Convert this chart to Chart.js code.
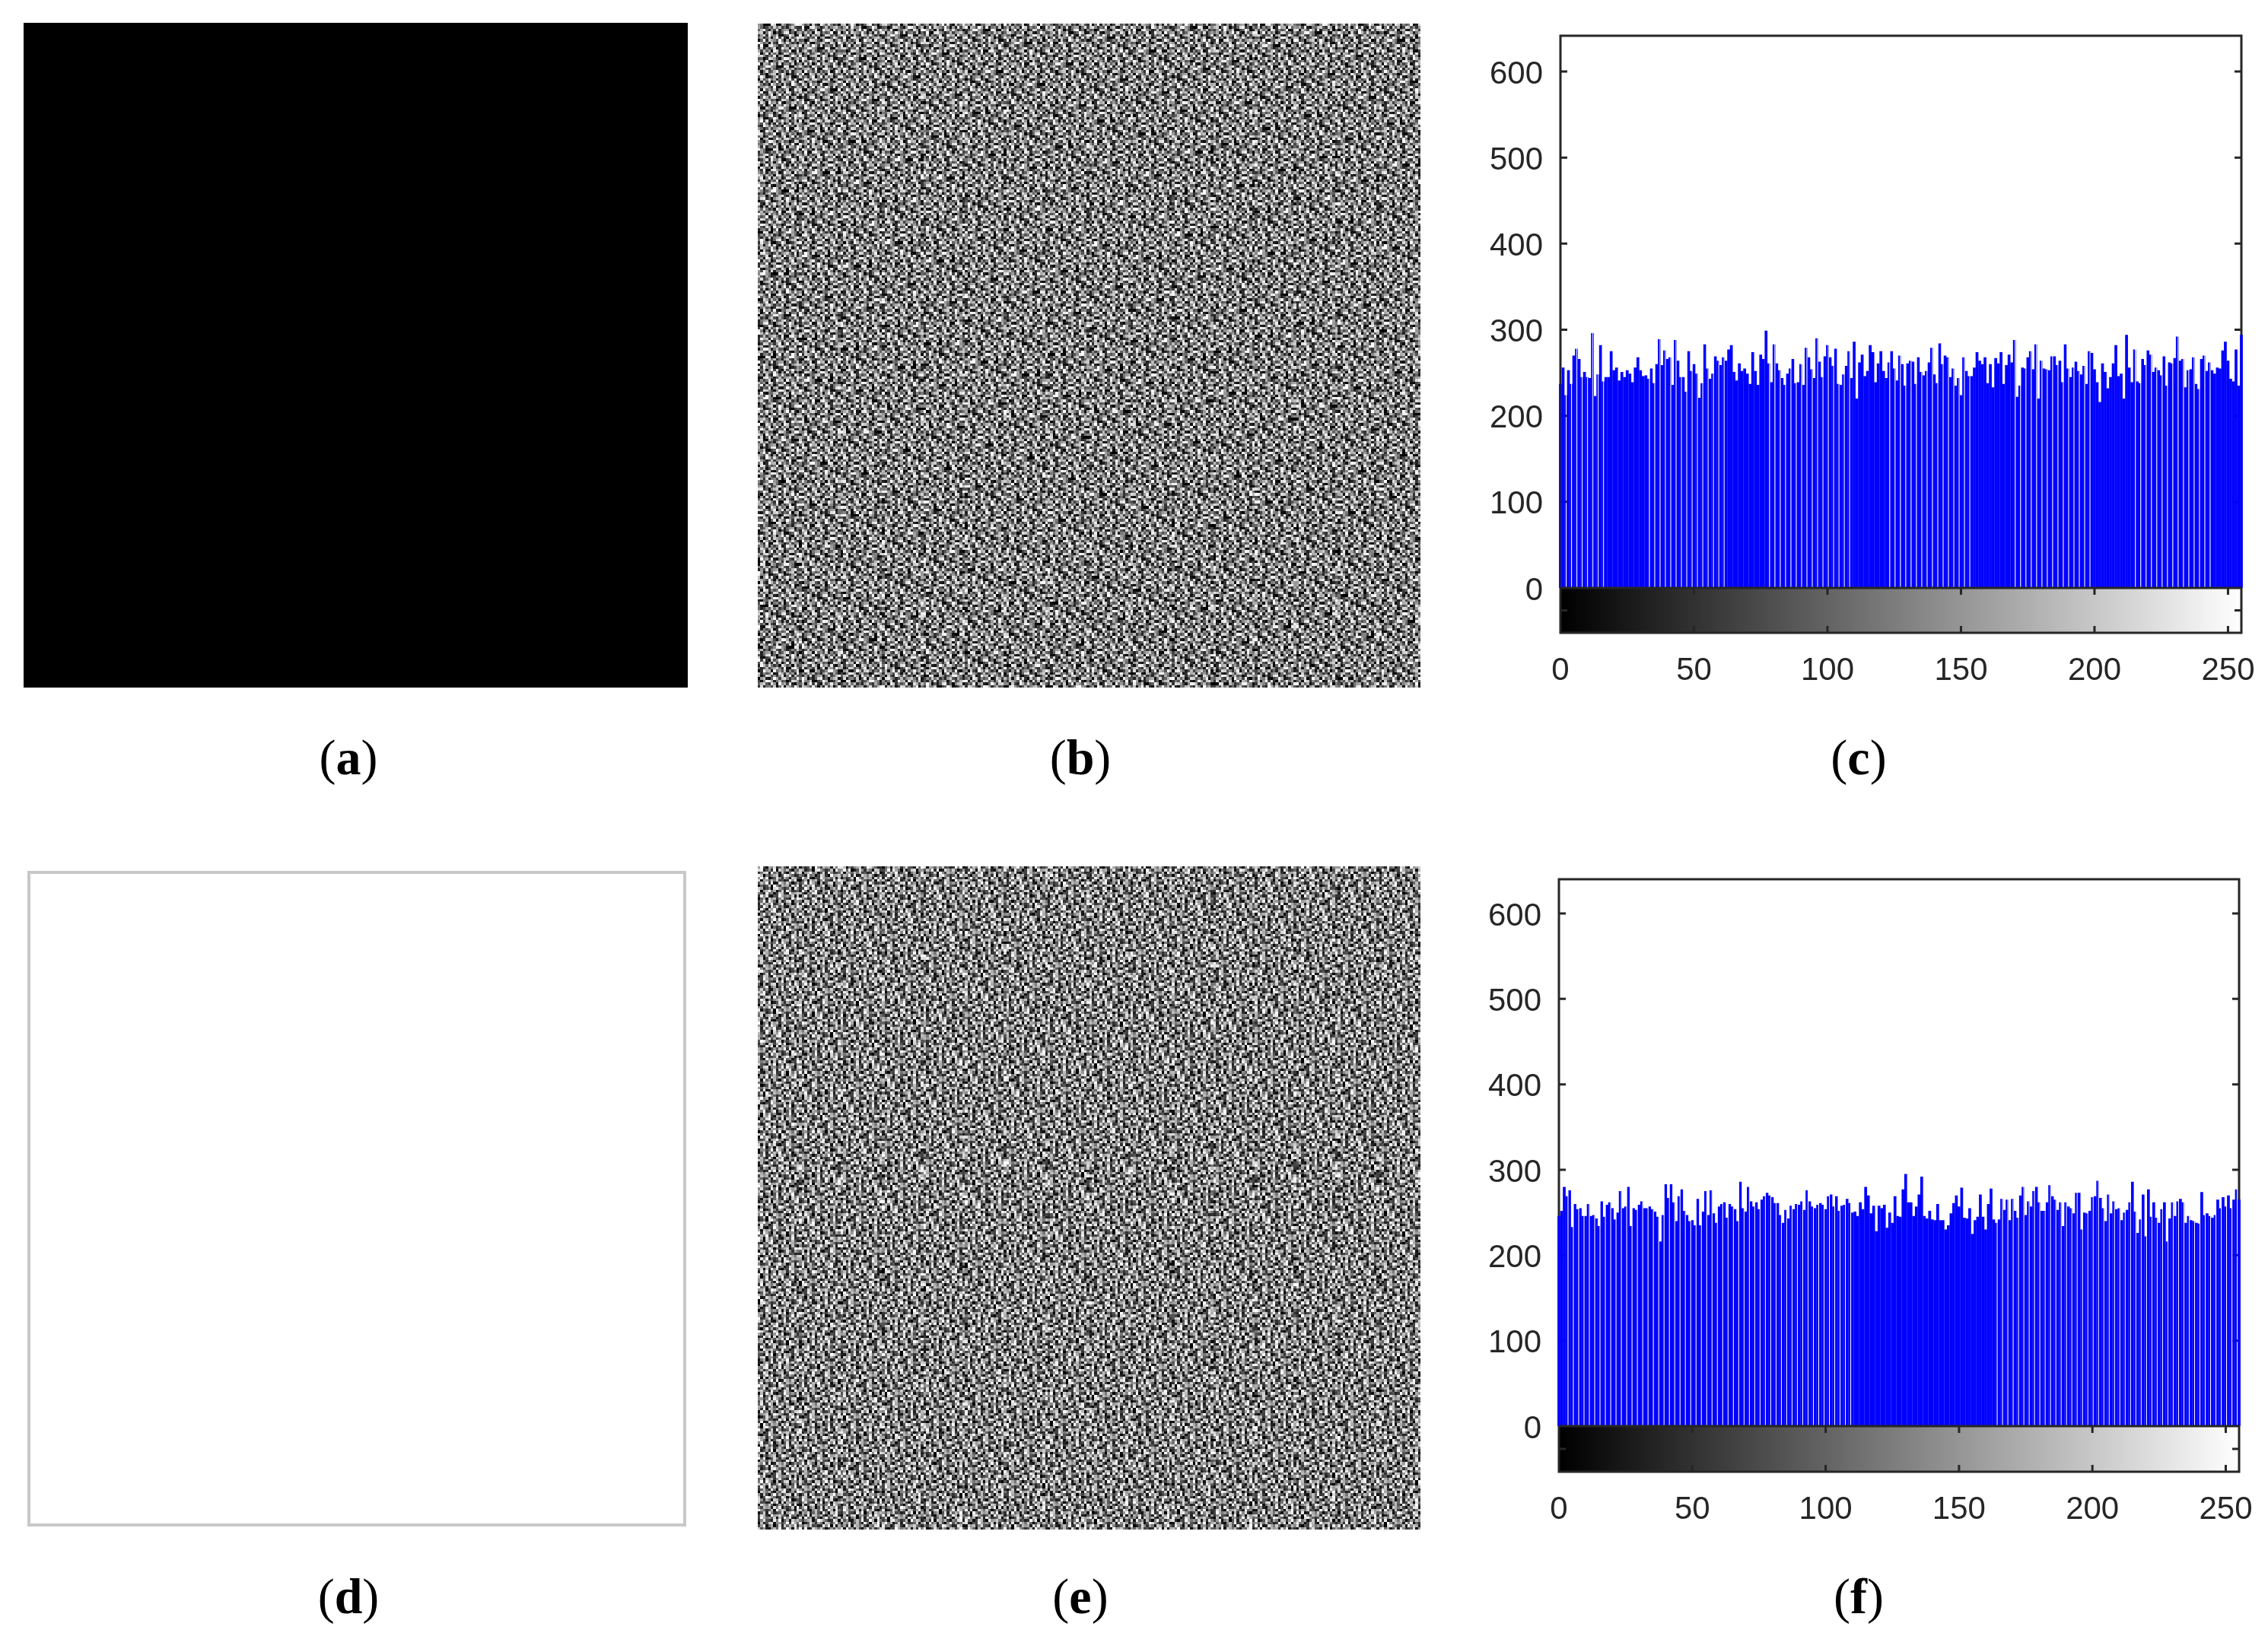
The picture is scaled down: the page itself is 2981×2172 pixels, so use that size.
<!DOCTYPE html>
<html>
<head>
<meta charset="utf-8">
<script src="https://cdn.jsdelivr.net/npm/chart.js@4/dist/chart.umd.min.js"></script>
<style>
  html, body { margin: 0; padding: 0; background: #fff; }
  #page { position: relative; width: 2981px; height: 2172px; overflow: hidden; }
  canvas { position: absolute; display: block; }
  .caption { position: absolute; transform: translate(-50%, -50%); font-family: "Liberation Serif", serif; font-size: 66px; color: #000; white-space: nowrap; }
</style>
</head>
<body>
<div id="page"></div>
<script>
// histogram counts (c) and (f), grey level 0..255
const histC = [
  237,256,224,253,237,270,278,266,245,251,245,244,296,223,248,282,240,245,245,275,253,256,241,251,245,253,249,239,256,268,253,246,
  247,243,255,238,260,289,259,276,266,268,236,288,264,245,245,228,275,252,260,249,221,238,283,255,243,249,269,264,259,268,264,277,
  282,251,241,261,252,255,249,237,274,252,236,271,266,299,261,239,283,261,253,244,236,249,255,266,238,239,260,236,279,268,254,244,
  290,263,245,269,282,268,258,278,237,236,248,258,275,244,286,220,262,271,246,252,282,274,239,261,275,252,244,262,275,255,241,270,
  260,235,261,264,263,237,268,251,247,252,262,279,248,238,284,260,270,268,245,255,235,244,224,268,252,246,246,256,274,264,260,268,
  238,260,233,267,261,274,237,259,271,262,288,222,235,256,255,268,275,254,283,220,264,255,254,253,269,269,259,264,239,283,255,245,
  256,263,252,248,258,237,275,273,254,239,216,261,251,232,245,261,282,246,249,220,294,256,239,277,240,238,266,259,276,271,251,256,
  253,247,269,235,262,261,267,292,264,266,233,253,254,268,237,231,266,270,252,262,253,249,256,255,276,286,264,243,240,277,235,294
];
const histF = [
  246,252,280,269,276,233,260,254,255,246,246,260,246,247,243,234,263,245,259,262,255,242,250,275,255,257,280,234,255,253,259,263,
  255,255,257,254,251,245,216,247,283,267,283,262,240,269,277,252,247,240,241,235,266,235,251,275,247,276,249,238,257,260,262,244,
  260,257,254,240,286,255,251,280,263,257,262,254,265,269,273,270,268,261,261,247,238,253,243,258,254,260,259,263,253,276,263,257,
  255,259,261,259,254,269,271,257,269,252,258,259,266,261,250,251,246,262,254,280,270,249,258,228,258,255,259,232,250,238,269,246,
  245,277,295,262,262,246,257,271,292,246,243,252,242,241,260,241,241,230,235,249,261,270,257,279,244,243,255,225,241,245,271,245,
  230,260,278,242,238,242,266,253,265,241,266,252,244,270,280,247,263,257,275,280,262,252,252,262,282,269,265,253,262,234,262,257,
  255,249,273,273,230,250,249,252,268,269,287,267,255,240,271,249,263,254,255,241,250,253,262,286,251,226,242,271,222,277,245,262,
  244,238,254,262,216,243,262,246,263,266,262,238,246,241,240,238,237,274,247,249,246,244,247,265,255,268,257,270,255,265,277,265
];
const xTickValues = [0, 50, 100, 150, 200, 250];
const yTickValues = [0, 100, 200, 300, 400, 500, 600];
const levels = histC.map((v, i) => i);

// white hairlines between bars, where the downsampled stems leave a gap: [first, last], every 2 levels
const gapRunsC = [[0.15,16.15],[33.3,61.3],[78.3,108.3],[123.3,153.3],[170.3,198.3],[215.3,243.3]];
const gapRunsF = [[3.4,109.4],[164.3,254.3]];

// NOT measured data: hand-typed grey digits that only imitate the noise texture of panels (b) and (e).
// The real images have 65536 cells, these do not reproduce them.
const patchB = [
  '358ef97100ed10b8','29c53a62485c7b36','a17d46be5294d279','e3608bc17fa0526d',
  '6fb1249d3e87c104','0c58e7a26b19f4d3','92d4b06f3ca85e71','d7361ea580c42fb6',
  '48ac73f10de9625b','b1e695c2847d03fa','7f02da4b691ec385','c5839e07f2b6a14d',
  '16fa4cd8375e09b2','ea27b5603dc9418f','3d91f8a4e2076bc5','84c06e1b95fa3d27'
];
const patchE = [
  '2e70c9f41a8d36b5','b4186de2593f0ca7','08f5a37cd1e692b4','d9623eb0748ac15f',
  '71cb49f6e025d83a','3f8e0d1a96b7c452','c60495b8f3e12da7','a2d7e1635c0f84b9',
  '5b1f8ca2470de963','e8346d09bf7a15c2','0f9ac752e6814db3','96c1b3e8d2054fa7',
  '42e7f06a1c9b38d5','cd18947f3ea60b25','7a05d2c6b8f349e1','18b6e34fa0d7c592'
];
// fixed block offsets so the patch doesn't show as a regular lattice
const shiftRows = [0, 7, 3, 12, 5, 14, 9, 1, 11, 6, 15, 2, 8, 13, 4, 10, 3];
const shiftCols = [5, 0, 11, 4, 14, 8, 2, 13, 7, 1, 10, 15, 3, 9, 6, 12, 8, 1, 14];
const plateA = ['0'];
const plateD = ['f'];

const axisColor = '#262626';
const axisWidth = 3;
const tickLen = 9;

// plain images: one cell per image pixel
const imagePlugin = {
  id: 'imagePlate',
  beforeDatasetsDraw(chart, args, opts) {
    const {ctx, scales: {x, y}} = chart;
    const rows = opts.cells, n = rows.length;
    ctx.save();
    for (let r = 0; r < opts.size; r++) {
      const y0 = Math.round(y.getPixelForValue(r)), y1 = Math.round(y.getPixelForValue(r + 1));
      for (let c = 0; c < opts.size; c++) {
        const x0 = Math.round(x.getPixelForValue(c)), x1 = Math.round(x.getPixelForValue(c + 1));
        const rr = r + shiftRows[Math.floor(c / n) % shiftRows.length];
        const row = rows[rr % n];
        const cc = c + shiftCols[Math.floor(rr / n) % shiftCols.length];
        const g = parseInt(row[cc % row.length], 16) * 17;
        ctx.fillStyle = 'rgb(' + g + ',' + g + ',' + g + ')';
        ctx.fillRect(x0, y0, x1 - x0, y1 - y0);
      }
    }
    if (opts.frame) {
      const a = chart.chartArea;
      ctx.strokeStyle = opts.frame;
      ctx.lineWidth = 4;
      ctx.strokeRect(a.left + 2, a.top + 2, a.right - a.left - 4, a.bottom - a.top - 4);
    }
    ctx.restore();
  }
};

// axes box, inward ticks and the grey bar under a histogram (bars sit on top of the axes, like the original)
const histAxesPlugin = {
  id: 'histAxes',
  afterDatasetsDraw(chart, args, opts) {
    const {ctx, chartArea: a, scales: {x, y}} = chart;
    const y0 = y.getPixelForValue(0);
    ctx.save();

    // punch the gaps out of the bars
    ctx.globalCompositeOperation = 'destination-out';
    ctx.fillStyle = '#000';
    opts.gaps.forEach(run => {
      for (let g = run[0]; g <= run[1]; g += 2) {
        ctx.fillRect(x.getPixelForValue(g) - 0.5, a.top, 1, y0 - a.top);
      }
    });

    // main box and ticks go behind the bars
    ctx.globalCompositeOperation = 'destination-over';
    ctx.strokeStyle = axisColor;
    ctx.lineWidth = axisWidth;
    ctx.beginPath();
    ctx.moveTo(a.left, y0); ctx.lineTo(a.left, a.top); ctx.lineTo(a.right, a.top); ctx.lineTo(a.right, y0);
    yTickValues.forEach(v => {
      const p = y.getPixelForValue(v);
      ctx.moveTo(a.left, p); ctx.lineTo(a.left + tickLen, p);
      ctx.moveTo(a.right, p); ctx.lineTo(a.right - tickLen, p);
    });
    ctx.stroke();

    // grey bar below zero
    ctx.globalCompositeOperation = 'source-over';
    levels.forEach(l => {
      const x0 = Math.round(x.getPixelForValue(l));
      const x1 = l < 255 ? Math.round(x.getPixelForValue(l + 1)) : a.right;
      ctx.fillStyle = 'rgb(' + l + ',' + l + ',' + l + ')';
      ctx.fillRect(x0, y0, x1 - x0, a.bottom - y0);
    });
    ctx.lineWidth = axisWidth;
    ctx.beginPath();
    ctx.moveTo(a.left, y0); ctx.lineTo(a.right, y0);
    ctx.moveTo(a.left, y0); ctx.lineTo(a.left, a.bottom); ctx.lineTo(a.right, a.bottom); ctx.lineTo(a.right, y0);
    xTickValues.forEach(v => {
      const p = x.getPixelForValue(v);
      ctx.moveTo(p, y0); ctx.lineTo(p, y0 + tickLen);
      ctx.moveTo(p, a.bottom); ctx.lineTo(p, a.bottom - tickLen);
    });
    const mid = (y0 + a.bottom) / 2;
    ctx.moveTo(a.left, mid); ctx.lineTo(a.left + tickLen, mid);
    ctx.moveTo(a.right, mid); ctx.lineTo(a.right - tickLen, mid);
    ctx.stroke();
    ctx.restore();
  }
};

function addCanvas(left, top, width, height) {
  const c = document.createElement('canvas');
  c.width = width; c.height = height;
  c.style.left = left + 'px'; c.style.top = top + 'px';
  c.style.width = width + 'px'; c.style.height = height + 'px';
  document.getElementById('page').appendChild(c);
  return c;
}

function imagePanel(box, cells, size, frame) {
  new Chart(addCanvas(box.left, box.top, box.width, box.height), {
    type: 'scatter',
    data: { datasets: [{ data: [], pointRadius: 0 }] },
    plugins: [imagePlugin],
    options: {
      responsive: false,
      animation: false,
      devicePixelRatio: 1,
      events: [],
      scales: {
        x: { type: 'linear', display: false, min: 0, max: size },
        y: { type: 'linear', display: false, min: 0, max: size, reverse: true }
      },
      plugins: {
        legend: { display: false },
        tooltip: { enabled: false },
        imagePlate: { cells: cells, size: size, frame: frame }
      }
    }
  });
}

// chart.js keeps room for half of the outer tick labels, the original plot box doesn't
function noLabelPadding(s) {
  s.paddingLeft = 0; s.paddingRight = 0; s.paddingTop = 0; s.paddingBottom = 0;
}

function histPanel(box, counts, gaps, yMin, yMax) {
  const tickFont = { family: '"Liberation Sans", Arial, sans-serif', size: 42 };
  new Chart(addCanvas(box.left, box.top, box.width, box.height), {
    type: 'bar',
    data: {
      labels: levels,
      datasets: [{
        data: counts.map((v, i) => ({ x: levels[i], y: v })),
        backgroundColor: '#0000ff',
        borderWidth: 0,
        barPercentage: 1.06,
        categoryPercentage: 1,
        clip: { left: 3, right: 3, top: 0, bottom: 0 }
      }]
    },
    plugins: [histAxesPlugin],
    options: {
      responsive: false,
      animation: false,
      devicePixelRatio: 1,
      events: [],
      layout: { padding: { left: 0, top: box.plotTop, right: box.plotRight, bottom: 0 } },
      scales: {
        x: {
          type: 'linear',
          min: 0,
          max: 255,
          offset: false,
          grid: { display: false, drawTicks: false, offset: false },
          border: { display: false },
          afterBuildTicks: s => { s.ticks = xTickValues.map(v => ({ value: v })); },
          afterFit: s => { s.height = box.xAxisHeight; noLabelPadding(s); },
          ticks: { color: axisColor, font: tickFont, padding: 25, maxRotation: 0, autoSkip: false }
        },
        y: {
          min: yMin,
          max: yMax,
          grid: { display: false, drawTicks: false },
          border: { display: false },
          afterBuildTicks: s => { s.ticks = yTickValues.map(v => ({ value: v })); },
          afterFit: s => { s.width = box.yAxisWidth; noLabelPadding(s); },
          ticks: { color: axisColor, font: tickFont, padding: 23, labelOffset: 4 }
        }
      },
      plugins: {
        legend: { display: false },
        tooltip: { enabled: false },
        histAxes: { gaps: gaps }
      }
    }
  });
}

imagePanel({ left: 31, top: 30, width: 873, height: 874 }, plateA, 1, null);
imagePanel({ left: 996, top: 31, width: 871, height: 873 }, patchB, 256, null);
histPanel({ left: 1950, top: 20, width: 1031, height: 900, plotTop: 27, plotRight: 35, yAxisWidth: 101, xAxisHeight: 88 }, histC, gapRunsC, -52.1, 641.5);

imagePanel({ left: 36, top: 1145, width: 866, height: 862 }, plateD, 1, '#c8c8c8');
imagePanel({ left: 996, top: 1139, width: 871, height: 872 }, patchE, 256, null);
histPanel({ left: 1950, top: 1130, width: 1031, height: 900, plotTop: 26, plotRight: 38, yAxisWidth: 99, xAxisHeight: 95 }, histF, gapRunsF, -53.4, 640);

// sub-figure captions
const captionLetters = ['a', 'b', 'c', 'd', 'e', 'f'];
const captionX = [458, 1420, 2443, 458, 1420, 2443];
const captionY = [996, 996, 996, 2099, 2099, 2099];
captionLetters.forEach((t, i) => {
  const d = document.createElement('div');
  d.className = 'caption';
  d.style.left = captionX[i] + 'px';
  d.style.top = captionY[i] + 'px';
  d.innerHTML = '(<b>' + t + '</b>)';
  document.getElementById('page').appendChild(d);
});
</script>
</body>
</html>
